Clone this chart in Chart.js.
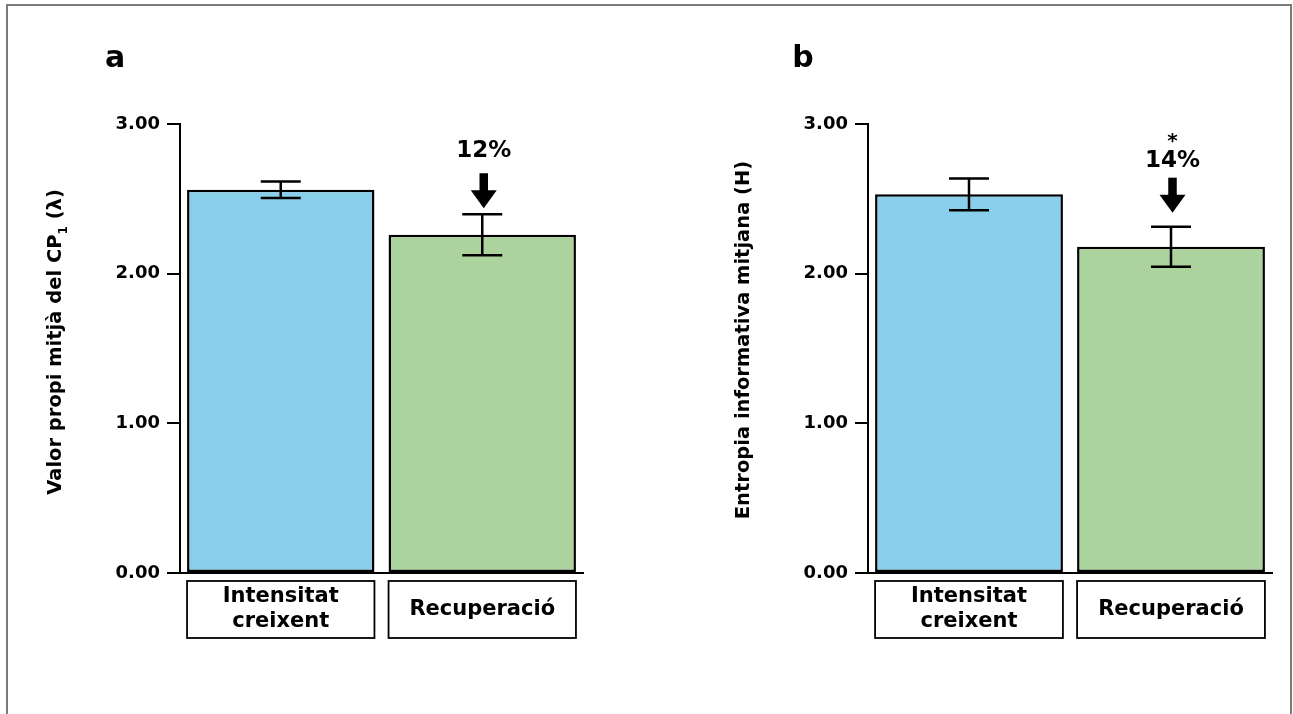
<!DOCTYPE html>
<html>
<head>
<meta charset="utf-8">
<script src="https://cdn.jsdelivr.net/npm/chart.js@4.4.1/dist/chart.umd.min.js"></script>
<style>
  html, body { margin: 0; padding: 0; background: #fff; width: 1293px; height: 714px; overflow: hidden; }
  .frame { position: absolute; left: 6px; top: 4px; width: 1286px; height: 800px; border: 2px solid #7a7a7a; box-sizing: border-box; }
  .panel { position: absolute; top: 0; height: 714px; }
  #panelA { left: 0; width: 646px; }
  #panelB { left: 688px; width: 605px; }
</style>
</head>
<body>
<div class="frame"></div>
<div class="panel" id="panelA"><canvas id="chartA"></canvas></div>
<div class="panel" id="panelB"><canvas id="chartB"></canvas></div>
<script>
// categories and values
const categories = [["Intensitat", "creixent"], ["Recuperació"]];
const yTicks = [0, 1, 2, 3];

const eigenMeans = [2.56, 2.26];
const eigenErrors = [0.055, 0.137];
const eigenChange = "12%";

const entropyMeans = [2.53, 2.18];
const entropyErrors = [0.106, 0.134];
const entropyChange = "14%";

const barColors = ["#89cfec", "#acd39e"];
const FONT = "'DejaVu Sans', 'Liberation Sans', Arial, sans-serif";

// draws error bars, the arrow with its percentage, the boxed categories,
// the panel letter and the vertical axis title
const panelDecor = {
    id: "panelDecor",
    afterDatasetsDraw(chart) {
        const o = chart.options.plugins.panelDecor;
        const ctx = chart.ctx;
        const y = chart.scales.y;
        const area = chart.chartArea;
        const bars = chart.getDatasetMeta(0).data;

        ctx.save();
        ctx.strokeStyle = "#000";
        ctx.fillStyle = "#000";

        // error bars
        ctx.lineWidth = 2.5;
        bars.forEach((bar, i) => {
            const v = o.means[i], e = o.errors[i];
            const top = y.getPixelForValue(v + e);
            const bot = y.getPixelForValue(v - e);
            const cap = 20;
            ctx.beginPath();
            ctx.moveTo(bar.x, top); ctx.lineTo(bar.x, bot);
            ctx.moveTo(bar.x - cap, top); ctx.lineTo(bar.x + cap, top);
            ctx.moveTo(bar.x - cap, bot); ctx.lineTo(bar.x + cap, bot);
            ctx.stroke();
        });

        // arrow pointing down at the second bar
        const last = bars.length - 1;
        const ax = bars[last].x + 1.5;
        const tip = y.getPixelForValue(o.means[last] + o.errors[last]) - o.arrowGap;
        const headH = 18, headW = 26, shaftW = 8.5, len = 35;
        ctx.fillRect(ax - shaftW / 2, tip - len, shaftW, len - headH + 1);
        ctx.beginPath();
        ctx.moveTo(ax - headW / 2, tip - headH);
        ctx.lineTo(ax + headW / 2, tip - headH);
        ctx.lineTo(ax, tip);
        ctx.closePath();
        ctx.fill();

        ctx.textAlign = "center";
        ctx.textBaseline = "middle";
        ctx.font = "bold 23px " + FONT;
        const labelY = tip - len - o.labelGap;
        ctx.fillText(o.change, ax, labelY);
        if (o.mark) {
            ctx.font = "bold 20px " + FONT;
            ctx.fillText(o.mark, ax, labelY - 19);
        }

        // category boxes under the axis
        ctx.lineWidth = 1.8;
        ctx.font = "bold 21px " + FONT;
        const boxTop = area.bottom + 8, boxH = 57;
        bars.forEach((bar, i) => {
            const half = bar.width / 2;
            ctx.strokeRect(bar.x - half, boxTop, bar.width, boxH);
            const lines = [].concat(chart.data.labels[i]);
            const lh = 25;
            const cy = boxTop + boxH / 2;
            lines.forEach((t, k) => {
                ctx.fillText(t, bar.x, cy + (k - (lines.length - 1) / 2) * lh);
            });
        });

        // panel letter
        ctx.textAlign = "center";
        ctx.textBaseline = "alphabetic";
        ctx.font = "bold 30px " + FONT;
        ctx.fillText(o.letter, 115, 67);

        // vertical axis title (pieces allow a subscript)
        const big = "bold 19.5px " + FONT, small = "bold 12px " + FONT;
        let total = 0;
        o.title.forEach(p => { ctx.font = p.sub ? small : big; total += ctx.measureText(p.text).width; });
        ctx.translate(56, o.titleY);
        ctx.rotate(-Math.PI / 2);
        ctx.textAlign = "left";
        ctx.textBaseline = "middle";
        let x = -total / 2;
        o.title.forEach(p => {
            ctx.font = p.sub ? small : big;
            ctx.fillText(p.text, x, p.sub ? 8 : 0);
            x += ctx.measureText(p.text).width;
        });
        ctx.restore();
    }
};

function makePanel(canvasId, means, errors, cfg, padRight) {
    return new Chart(document.getElementById(canvasId), {
        type: "bar",
        data: {
            labels: categories,
            datasets: [{
                data: means,
                backgroundColor: barColors,
                borderColor: "#000",
                borderWidth: 2.5,
                borderSkipped: false,
                barPercentage: 0.93,
                categoryPercentage: 1
            }]
        },
        options: {
            responsive: true,
            maintainAspectRatio: false,
            animation: false,
            layout: { padding: { left: 100, top: 124, right: padRight, bottom: 71 } },
            plugins: {
                legend: { display: false },
                tooltip: { enabled: false },
                panelDecor: cfg
            },
            scales: {
                x: {
                    grid: { display: false },
                    border: { display: true, color: "#000", width: 2 },
                    ticks: { display: false },
                    afterFit: s => { s.height = 70; }
                },
                y: {
                    min: 0,
                    max: 3,
                    afterBuildTicks: s => { s.ticks = yTicks.map(v => ({ value: v })); },
                    grid: { drawOnChartArea: false, color: "#000", lineWidth: 2, tickLength: 13 },
                    border: { display: true, color: "#000", width: 2 },
                    ticks: {
                        color: "#000",
                        padding: 7,
                        font: { family: FONT, size: 18, weight: "bold" },
                        callback: v => Number(v).toFixed(2)
                    },
                    afterFit: s => { s.width = 80; }
                }
            }
        },
        plugins: [panelDecor]
    });
}

makePanel("chartA", eigenMeans, eigenErrors, {
    letter: "a",
    means: eigenMeans,
    errors: eigenErrors,
    change: eigenChange,
    mark: "",
    arrowGap: 6,
    labelGap: 22,
    titleY: 342,
    title: [{ text: "Valor propi mitjà del CP" }, { text: "1", sub: true }, { text: " (λ)" }]
}, 63);

makePanel("chartB", entropyMeans, entropyErrors, {
    letter: "b",
    means: entropyMeans,
    errors: entropyErrors,
    change: entropyChange,
    mark: "*",
    arrowGap: 14,
    labelGap: 17,
    titleY: 340,
    title: [{ text: "Entropia informativa mitjana (H)" }]
}, 21);
</script>
</body>
</html>
